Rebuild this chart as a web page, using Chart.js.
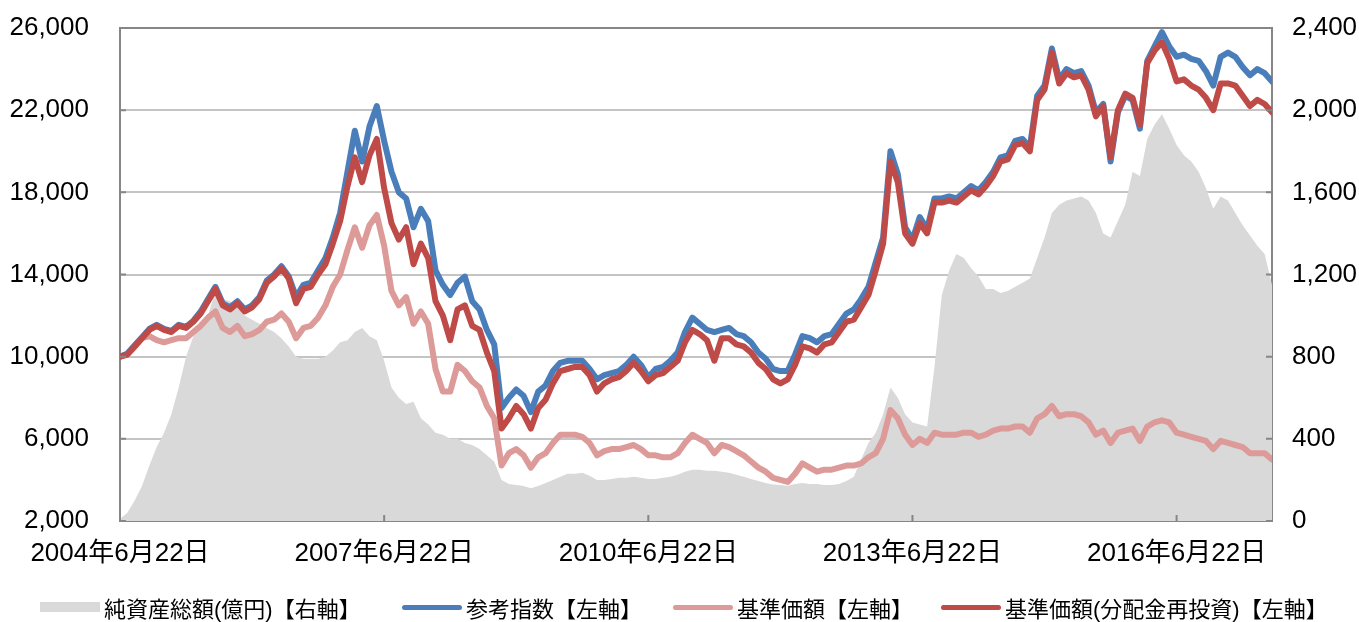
<!DOCTYPE html>
<html lang="ja">
<head>
<meta charset="utf-8">
<title>基準価額の推移</title>
<script src="https://cdn.jsdelivr.net/npm/chart.js@4.4.1/dist/chart.umd.min.js"></script>
<style>
  html, body { margin: 0; padding: 0; background: #fff; }
  #wrap { position: relative; width: 1359px; height: 622px; overflow: hidden; }
  #chart { position: absolute; left: 0; top: 0; }
  .legend { position: absolute; left: 0; top: 593px; width: 1359px; height: 28px;
            font-family: "Liberation Sans", "Noto Sans CJK JP", sans-serif; font-size: 22px; color: #000; }
  .item { position: absolute; top: 0; height: 28px; display: flex; align-items: center; white-space: nowrap; }
  .swatch { width: 60px; margin-right: 4px; }
</style>
</head>
<body>
<div id="wrap">
  <canvas id="chart" width="1359" height="622"></canvas>
  <div class="legend" id="legend"></div>
</div>
<script>
// monthly readings, June 2004 .. Aug 2017 (one value per month)
const refIndex = [
  10000, 10150, 10550, 10950, 11350, 11550, 11350, 11250, 11550, 11450, 11750, 12200,
  12800, 13400, 12600, 12400, 12700, 12300, 12500, 12900, 13700, 14000, 14400, 13900,
  12900, 13500, 13600, 14200, 14800, 15800, 17000, 19000, 21000, 19500, 21200, 22200,
  20500, 19000, 18000, 17700, 16300, 17200, 16600, 14200, 13500, 13000, 13600, 13900,
  12700, 12300, 11300, 10600, 7500, 8000, 8400, 8100, 7300, 8300, 8600, 9300,
  9700, 9800, 9800, 9800, 9400, 8900, 9100, 9200, 9300, 9600, 10000, 9600,
  9000, 9400, 9500, 9800, 10200, 11200, 11900, 11600, 11300, 11200, 11300, 11400,
  11100, 11000, 10700, 10200, 9900, 9400, 9300, 9300, 10100, 11000, 10900, 10700,
  11000, 11100, 11600, 12100, 12300, 12800, 13400, 14600, 15800, 20000, 18900, 16300,
  15700, 16800, 16200, 17700, 17700, 17800, 17700, 18000, 18300, 18100, 18500, 19000,
  19700, 19800, 20500, 20600, 20200, 22700, 23200, 25000, 23500, 24000, 23800, 23900,
  23200, 21900, 22300, 19500, 21900, 22700, 22500, 21100, 24400, 25100, 25800, 25100,
  24600, 24700, 24500, 24400, 23900, 23200, 24600, 24800, 24600, 24100, 23700, 24000,
  23800, 23400
];
const navPrice = [
  10000, 10100, 10500, 10900, 11000, 10800, 10700, 10800, 10900, 10900, 11200, 11500,
  11900, 12200, 11400, 11200, 11500, 11000, 11100, 11300, 11700, 11800, 12100, 11700,
  10900, 11400, 11500, 11900, 12500, 13400, 14000, 15200, 16300, 15300, 16400, 16900,
  15400, 13200, 12500, 12900, 11600, 12200, 11600, 9400, 8300, 8300, 9600, 9300,
  8800, 8500, 7600, 7000, 4700, 5300, 5500, 5200, 4600, 5100, 5300, 5800,
  6200, 6200, 6200, 6100, 5800, 5200, 5400, 5500, 5500, 5600, 5700, 5500,
  5200, 5200, 5100, 5100, 5300, 5800, 6200, 6000, 5800, 5300, 5700, 5600,
  5400, 5200, 4900, 4600, 4400, 4100, 4000, 3900, 4300, 4800, 4600, 4400,
  4500, 4500, 4600, 4700, 4700, 4800, 5100, 5300, 6000, 7400, 7000, 6200,
  5700, 6000, 5800, 6300, 6200, 6200, 6200, 6300, 6300, 6100, 6200, 6400,
  6500, 6500, 6600, 6600, 6300, 7000, 7200, 7600, 7100, 7200, 7200, 7100,
  6800, 6200, 6400, 5800, 6300, 6400, 6500, 5900, 6600, 6800, 6900, 6800,
  6300, 6200, 6100, 6000, 5900, 5500, 5900, 5800, 5700, 5600, 5300, 5300,
  5300, 5000
];
const navReinvest = [
  10000, 10100, 10500, 10900, 11300, 11500, 11300, 11200, 11500, 11400, 11700, 12100,
  12700, 13300, 12500, 12300, 12600, 12200, 12400, 12800, 13600, 13900, 14300, 13800,
  12600, 13300, 13400, 14000, 14500, 15500, 16600, 18300, 19700, 18500, 19800, 20600,
  18200, 16500, 15700, 16300, 14500, 15500, 14800, 12700, 12000, 10800, 12300, 12500,
  11500, 11300, 10200, 9300, 6500, 7000, 7600, 7200, 6500, 7500, 7900, 8700,
  9300, 9400, 9500, 9500, 9100, 8300, 8700, 8900, 9000, 9300, 9700, 9300,
  8800, 9100, 9200, 9500, 9800, 10700, 11300, 11100, 10800, 9800, 10900, 10900,
  10600, 10500, 10200, 9700, 9400, 8900, 8700, 8900, 9600, 10500, 10400, 10200,
  10600, 10700, 11200, 11700, 11800, 12400, 13000, 14200, 15500, 19500, 18500, 16000,
  15500, 16500, 16000, 17500, 17500, 17600, 17500, 17800, 18100, 17900, 18300, 18800,
  19500, 19600, 20300, 20400, 20000, 22500, 23000, 24800, 23300, 23800, 23600, 23700,
  23000, 21700, 22200, 19700, 22000, 22800, 22600, 21300, 24300, 24900, 25300, 24500,
  23400, 23500, 23200, 23000, 22600, 22000, 23300, 23300, 23200, 22700, 22200, 22500,
  22300, 21900
];
// 純資産総額 (億円), right axis
const netAssets = [
  10, 40, 100, 170, 270, 360, 430, 520, 650, 800, 900, 950,
  1000, 1120, 1080, 1070, 1040, 1000, 980, 960, 940, 920, 890, 850,
  800, 790, 790, 790, 800, 830, 870, 880, 920, 940, 900, 880,
  780, 650, 600, 570, 580, 500, 470, 430, 420, 400, 400, 380,
  370, 350, 320, 290, 200, 180, 175, 170, 160, 170, 185, 200,
  215, 230, 230, 235, 220, 200, 200, 205, 210, 210, 215, 210,
  205, 205, 210, 215, 225, 240, 250, 250, 245, 245, 240, 235,
  225, 215, 205, 195, 185, 178, 175, 172, 180, 185, 180, 180,
  175, 175, 180, 195, 215, 300, 380, 430, 520, 650, 600, 520,
  480, 470, 460, 750, 1100, 1220, 1300, 1280, 1230, 1190, 1130, 1130,
  1110, 1120, 1140, 1160, 1180, 1280, 1380, 1500, 1540, 1560, 1570, 1580,
  1560, 1500, 1400, 1380, 1460, 1540, 1700, 1680, 1860, 1930, 1980, 1910,
  1830, 1780, 1750, 1700, 1620, 1520, 1580, 1560, 1500, 1440, 1390, 1340,
  1300, 1150
];
const tickMonths = [0, 36, 72, 108, 144];
const tickLabels = ['2004年6月22日', '2007年6月22日', '2010年6月22日', '2013年6月22日', '2016年6月22日'];

const legendItems = [
  { label: '純資産総額(億円)【右軸】', color: '#d9d9d9', box: true, left: 40 },
  { label: '参考指数【左軸】', color: '#4a7ebb', box: false, left: 402 },
  { label: '基準価額【左軸】', color: '#dc9a98', box: false, left: 673 },
  { label: '基準価額(分配金再投資)【左軸】', color: '#be4b48', box: false, left: 941 }
];

const FONT = '"Liberation Sans", "Noto Sans CJK JP", sans-serif';
const AXIS = '#868686';

function toPoints(values) {
  return values.map((v, i) => ({ x: i, y: v }));
}

// small inward tick marks and the top frame line
const frameTicks = {
  id: 'frameTicks',
  afterDatasetsDraw(chart) {
    const { ctx, chartArea: a, scales } = chart;
    ctx.save();
    ctx.strokeStyle = AXIS;
    ctx.lineWidth = 2;
    ctx.beginPath();
    ctx.moveTo(a.left, a.top);
    ctx.lineTo(a.right, a.top);
    scales.y.ticks.forEach(t => {
      const y = scales.y.getPixelForValue(t.value);
      ctx.moveTo(a.left, y); ctx.lineTo(a.left + 6, y);
    });
    scales.y1.ticks.forEach(t => {
      const y = scales.y1.getPixelForValue(t.value);
      ctx.moveTo(a.right - 6, y); ctx.lineTo(a.right, y);
    });
    tickMonths.forEach(m => {
      const x = scales.x.getPixelForValue(m);
      ctx.moveTo(x, a.bottom); ctx.lineTo(x, a.bottom - 6);
    });
    ctx.stroke();
    ctx.restore();
  }
};

function lineSet(label, values, color, order) {
  return {
    label: label,
    data: toPoints(values),
    yAxisID: 'y',
    borderColor: color,
    borderWidth: 6,
    borderJoinStyle: 'round',
    borderCapStyle: 'round',
    pointRadius: 0,
    tension: 0,
    fill: false,
    order: order
  };
}

new Chart(document.getElementById('chart'), {
  type: 'line',
  data: {
    datasets: [
      {
        label: legendItems[0].label,
        data: toPoints(netAssets),
        yAxisID: 'y1',
        backgroundColor: '#d9d9d9',
        borderWidth: 0,
        pointRadius: 0,
        tension: 0,
        fill: 'origin',
        order: 4
      },
      lineSet(legendItems[1].label, refIndex, legendItems[1].color, 2),
      lineSet(legendItems[2].label, navPrice, legendItems[2].color, 3),
      lineSet(legendItems[3].label, navReinvest, legendItems[3].color, 1)
    ]
  },
  options: {
    responsive: false,
    animation: false,
    devicePixelRatio: 1,
    layout: { padding: { top: 28, bottom: 51, left: 0, right: 0 } },
    plugins: {
      legend: { display: false },
      tooltip: { enabled: false }
    },
    scales: {
      x: {
        type: 'linear',
        min: 0,
        max: 157,
        afterBuildTicks: scale => { scale.ticks = tickMonths.map(v => ({ value: v })); },
        afterFit: scale => { scale.height = 50; },
        grid: { display: false, drawTicks: false },
        border: { color: AXIS, width: 2 },
        ticks: {
          autoSkip: false,
          maxRotation: 0,
          padding: 17,
          color: '#000',
          font: { family: FONT, size: 26 },
          callback: v => tickLabels[tickMonths.indexOf(v)]
        }
      },
      y: {
        position: 'left',
        min: 2000,
        max: 26000,
        afterFit: scale => { scale.width = 120; },
        // invisible outer ticks only push the labels away from the axis
        grid: { color: '#c4c4c4', lineWidth: 2, drawTicks: true, tickLength: 28, tickColor: 'rgba(0,0,0,0)' },
        border: { color: AXIS, width: 2 },
        ticks: {
          stepSize: 4000,
          padding: 3,
          color: '#000',
          font: { family: FONT, size: 26 },
          callback: v => v.toLocaleString('en-US')
        }
      },
      y1: {
        position: 'right',
        min: 0,
        max: 2400,
        afterFit: scale => { scale.width = 87; },
        grid: { drawOnChartArea: false, drawTicks: true, tickLength: 17, tickColor: 'rgba(0,0,0,0)' },
        border: { color: AXIS, width: 2 },
        ticks: {
          stepSize: 400,
          padding: 3,
          color: '#000',
          font: { family: FONT, size: 26 },
          callback: v => v.toLocaleString('en-US')
        }
      }
    }
  },
  plugins: [frameTicks]
});

// legend below the plot
const legend = document.getElementById('legend');
legendItems.forEach(item => {
  const el = document.createElement('div');
  el.className = 'item';
  el.style.left = item.left + 'px';
  const sw = document.createElement('span');
  sw.className = 'swatch';
  sw.style.background = item.color;
  sw.style.height = item.box ? '10px' : '5px';
  if (!item.box) sw.style.borderRadius = '3px';
  const tx = document.createElement('span');
  tx.textContent = item.label;
  el.appendChild(sw);
  el.appendChild(tx);
  legend.appendChild(el);
});
</script>
</body>
</html>
